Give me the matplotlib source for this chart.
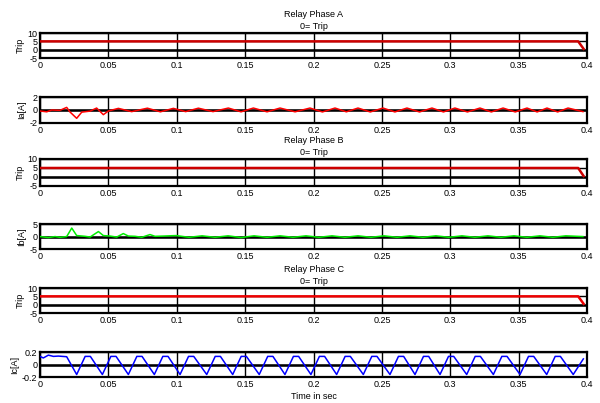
import numpy as np
import matplotlib
matplotlib.use("Agg")
import matplotlib.pyplot as plt

plt.rcParams['font.family'] = ['Liberation Sans', 'DejaVu Sans']

# Relay trip signals (same for all three phases)
trip_t = [0.0, 0.3935, 0.3975]
trip_v = [5, 5, 0.5]

# Phase A current
ia_t = [0.0, 0.0049, 0.0085, 0.0146, 0.0195, 0.0219, 0.0268, 0.0305, 0.0366, 0.0414,
        0.0463, 0.0500, 0.0573, 0.0670, 0.0785, 0.0880, 0.0975, 0.1065, 0.1158, 0.1265,
        0.1377, 0.1470, 0.1560, 0.1660, 0.1755, 0.1865, 0.1974, 0.2065, 0.2157, 0.2240,
        0.2325, 0.2415, 0.2508, 0.2595, 0.2683, 0.2775, 0.2866, 0.2950, 0.3034, 0.3125,
        0.3217, 0.3300, 0.3386, 0.3475, 0.3561, 0.3635, 0.3707, 0.3785, 0.3861, 0.3970]
ia_v = [-0.15, -0.28, 0.0, -0.05, 0.4, -0.3, -1.28, -0.33, -0.17, 0.3,
        -0.72, -0.15, 0.25, -0.25, 0.28, -0.28, 0.25, -0.25, 0.28, -0.25,
        0.3, -0.28, 0.3, -0.28, 0.3, -0.28, 0.3, -0.3, 0.3, -0.28,
        0.3, -0.3, 0.3, -0.3, 0.3, -0.3, 0.3, -0.3, 0.3, -0.3,
        0.3, -0.3, 0.3, -0.3, 0.3, -0.3, 0.3, -0.3, 0.3, -0.25]

# Phase B current
ib_t = [0.0, 0.0061, 0.0110, 0.0146, 0.0195, 0.0232, 0.0268, 0.0329, 0.0366, 0.0427,
        0.0463, 0.0512, 0.0561, 0.0609, 0.0646, 0.0695, 0.0744, 0.0804, 0.0841, 0.0902,
        0.0995, 0.1090, 0.1185, 0.1280, 0.1375, 0.1470, 0.1565, 0.1660, 0.1755, 0.1850,
        0.1945, 0.2040, 0.2135, 0.2230, 0.2325, 0.2420, 0.2515, 0.2610, 0.2705, 0.2800,
        0.2895, 0.2990, 0.3085, 0.3180, 0.3275, 0.3370, 0.3465, 0.3560, 0.3655, 0.3750,
        0.3845, 0.3970]
ib_v = [0.0, -0.4, 0.0, -0.3, 0.0, 3.4, 0.4, 0.1, -0.2, 2.0,
        0.4, 0.2, -0.2, 1.2, 0.2, 0.1, -0.3, 0.8, 0.1, 0.2,
        0.4, -0.3, 0.3, -0.3, 0.3, -0.4, 0.3, -0.3, 0.3, -0.3,
        0.3, -0.3, 0.3, -0.3, 0.3, -0.3, 0.3, -0.3, 0.3, -0.3,
        0.3, -0.3, 0.3, -0.3, 0.3, -0.3, 0.3, -0.3, 0.3, -0.3,
        0.3, 0.0]

# Phase C current
ic_t = [0.0, 0.0024, 0.0061, 0.0098, 0.0134, 0.0195,
        0.0268, 0.0330, 0.0368, 0.0456, 0.0518, 0.0556, 0.0646, 0.0708, 0.0746,
        0.0836, 0.0898, 0.0936, 0.1024, 0.1086, 0.1124, 0.1219, 0.1281, 0.1319,
        0.1409, 0.1471, 0.1509, 0.1603, 0.1665, 0.1703, 0.1791, 0.1853, 0.1891,
        0.1981, 0.2043, 0.2081, 0.2169, 0.2231, 0.2269, 0.2364, 0.2426, 0.2464,
        0.2559, 0.2621, 0.2659, 0.2742, 0.2804, 0.2842, 0.2925, 0.2987, 0.3025,
        0.3120, 0.3182, 0.3220, 0.3315, 0.3377, 0.3415, 0.3510, 0.3572, 0.3610,
        0.3705, 0.3767, 0.3805, 0.3899, 0.3973]
ic_v = [0.13, 0.105, 0.15, 0.13, 0.135, 0.125,
        -0.16, 0.13, 0.13, -0.16, 0.13, 0.13, -0.16, 0.13, 0.13,
        -0.16, 0.13, 0.13, -0.16, 0.13, 0.13, -0.16, 0.13, 0.13,
        -0.16, 0.13, 0.13, -0.16, 0.13, 0.13, -0.16, 0.13, 0.13,
        -0.16, 0.13, 0.13, -0.16, 0.13, 0.13, -0.16, 0.13, 0.13,
        -0.16, 0.13, 0.13, -0.16, 0.13, 0.13, -0.16, 0.13, 0.13,
        -0.16, 0.13, 0.13, -0.16, 0.13, 0.13, -0.16, 0.13, 0.13,
        -0.16, 0.13, 0.13, -0.16, 0.09]

x_ticks = [0, 0.05, 0.1, 0.15, 0.2, 0.25, 0.3, 0.35, 0.4]
x_labels = ['0', '0.05', '0.1', '0.15', '0.2', '0.25', '0.3', '0.35', '0.4']

fig = plt.figure(figsize=(6, 4.03), dpi=100, facecolor='white')

# (bottom, height) for each panel, in figure fractions
rows = [(0.856, 0.062), (0.6948, 0.0645), (0.5385, 0.067),
        (0.382, 0.062), (0.2233, 0.062), (0.0645, 0.062)]

panels = [
    (trip_t, trip_v, '#cc0000', 1.8, 'Trip', (-5, 10), [-5, 0, 5, 10], 'Relay Phase A\n0= Trip'),
    (ia_t, ia_v, '#ff0000', 1.1, 'Ia[A]', (-2, 2), [-2, 0, 2], None),
    (trip_t, trip_v, '#cc0000', 1.8, 'Trip', (-5, 10), [-5, 0, 5, 10], 'Relay Phase B\n0= Trip'),
    (ib_t, ib_v, '#00ee00', 1.1, 'Ib[A]', (-5, 5), [-5, 0, 5], None),
    (trip_t, trip_v, '#ee0000', 1.8, 'Trip', (-5, 10), [-5, 0, 5, 10], 'Relay Phase C\n0= Trip'),
    (ic_t, ic_v, '#0000ff', 1.1, 'Ic[A]', (-0.2, 0.2), [-0.2, 0, 0.2], None),
]

for (b, h), (t, v, col, lw, ylab, ylim, yt, title) in zip(rows, panels):
    ax = fig.add_axes((0.0667, b, 0.9117, h))
    ax.set_xlim(0, 0.4)
    ax.set_ylim(*ylim)
    ax.set_xticks(x_ticks)
    ax.set_xticklabels(x_labels)
    ax.set_yticks(yt)
    ax.set_yticklabels([('%g' % y) for y in yt])
    ax.grid(True, color='black', lw=1.0, ls='-')
    ax.set_axisbelow(True)
    ax.axhline(0, color='black', lw=1.8, zorder=1)
    ax.plot(t, v, color=col, lw=lw, zorder=3)
    ax.tick_params(length=0, labelsize=6.5, pad=2)
    for s in ax.spines.values():
        s.set_linewidth(1.6)
    ax.set_ylabel(ylab, fontsize=6.5, labelpad=2)
    if title:
        ax.set_title(title, fontsize=6.5, pad=3, linespacing=1.4)

ax.set_xlabel('Time in sec', fontsize=6.5, labelpad=2)

fig.savefig('out.png', dpi=100, facecolor='white')
